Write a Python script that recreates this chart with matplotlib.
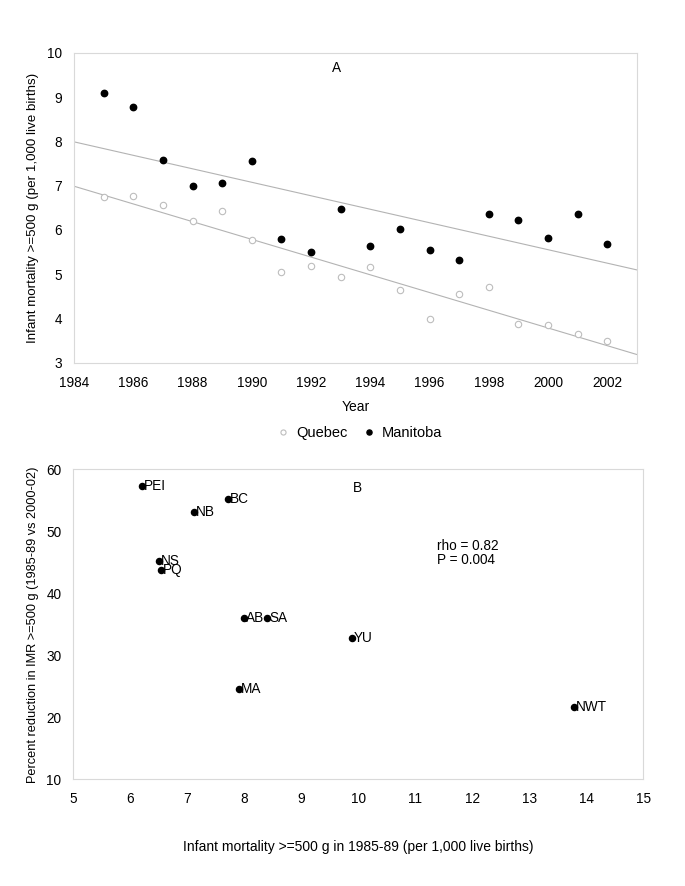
import numpy as np
import matplotlib
matplotlib.use("Agg")
import matplotlib.pyplot as plt

plt.rcParams['font.family'] = ['Liberation Sans', 'DejaVu Sans']

# panel A: infant mortality by year
years = [1985, 1986, 1987, 1988, 1989, 1990, 1991, 1992, 1993,
         1994, 1995, 1996, 1997, 1998, 1999, 2000, 2001, 2002]
quebec = [6.75, 6.76, 6.57, 6.20, 6.42, 5.78, 5.04, 5.19, 4.94,
          5.15, 4.64, 3.98, 4.54, 4.70, 3.86, 3.84, 3.65, 3.49]
manitoba = [9.09, 8.77, 7.57, 7.00, 7.05, 7.56, 5.79, 5.49, 6.47,
            5.64, 6.02, 5.55, 5.32, 6.36, 6.22, 5.82, 6.35, 5.69]

# panel B: provinces
provinces = ['PEI', 'BC', 'NB', 'NS', 'PQ', 'AB', 'SA', 'YU', 'MA', 'NWT']
imr_8589 = [6.20, 7.71, 7.11, 6.50, 6.54, 8.00, 8.40, 9.89, 7.90, 13.78]
reduction = [57.35, 55.26, 53.16, 45.2, 43.76, 36.06, 36.0, 32.8, 24.5, 21.7]

FRAME = '#d9d9d9'
TREND = '#b3b3b3'
FS = 9.8

fig = plt.figure(figsize=(6.85, 8.86), dpi=100)

def style(ax):
    for s in ax.spines.values():
        s.set_color(FRAME)
        s.set_linewidth(0.8)
    ax.tick_params(length=0, labelsize=FS)
    ax.tick_params(axis='y', pad=8.5)
    ax.tick_params(axis='x', pad=9.5)

# ---- A
ax1 = fig.add_axes([74 / 685, 1 - 362.5 / 886, 563 / 685, 309.5 / 886])
style(ax1)
xs = np.array([1984, 2003])
for series in (quebec, manitoba):
    k, b = np.polyfit(years, series, 1)
    ax1.plot(xs, k * xs + b, color=TREND, lw=0.8, zorder=1)
ax1.plot(years, quebec, 'o', ls='none', ms=4.6, mfc='white', mec='#bdbdbd',
         mew=0.8, label='Quebec', zorder=2)
ax1.plot(years, manitoba, 'o', ls='none', ms=4.6, color='black',
         label='Manitoba', zorder=3)
ax1.set_xlim(1984, 2003)
ax1.set_ylim(3, 10)
ax1.set_xticks(range(1984, 2003, 2))
ax1.set_yticks(range(3, 11))
ax1.set_xlabel('Year', fontsize=10, labelpad=7.5)
ax1.set_ylabel('Infant mortality >=500 g (per 1,000 live births)', fontsize=9.6, labelpad=6)
ax1.text(0.467, 0.95, 'A', transform=ax1.transAxes, ha='center', va='center', fontsize=FS)
fig.legend(*ax1.get_legend_handles_labels(), loc='center', ncol=2, frameon=False,
           bbox_to_anchor=(359 / 685, 1 - 432.7 / 886), fontsize=10.5,
           markerscale=0.8, handlelength=1.0, handletextpad=0.4, columnspacing=1.0)

# ---- B
ax2 = fig.add_axes([73.3 / 685, 1 - 779.3 / 886, 570 / 685, 310 / 886])
style(ax2)
ax2.plot(imr_8589, reduction, 'o', ls='none', ms=4.4, color='black')
for name, x, y in zip(provinces, imr_8589, reduction):
    ax2.annotate(name, (x, y), xytext=(1.5, 0), textcoords='offset points',
                 ha='left', va='center', fontsize=FS)
ax2.set_xlim(5, 15)
ax2.set_ylim(10, 60)
ax2.set_xticks(range(5, 16))
ax2.set_yticks(range(10, 61, 10))
ax2.set_xlabel('Infant mortality >=500 g in 1985-89 (per 1,000 live births)', fontsize=10, labelpad=24)
ax2.set_ylabel('Percent reduction in IMR >=500 g (1985-89 vs 2000-02)', fontsize=9.2, labelpad=5.5)
ax2.text(0.498, 0.94, 'B', transform=ax2.transAxes, ha='center', va='center', fontsize=FS)
ax2.text(11.38, 46.5, 'rho = 0.82\nP = 0.004', ha='left', va='center', fontsize=FS,
         linespacing=1.0)

fig.savefig('out.png', dpi=100)
